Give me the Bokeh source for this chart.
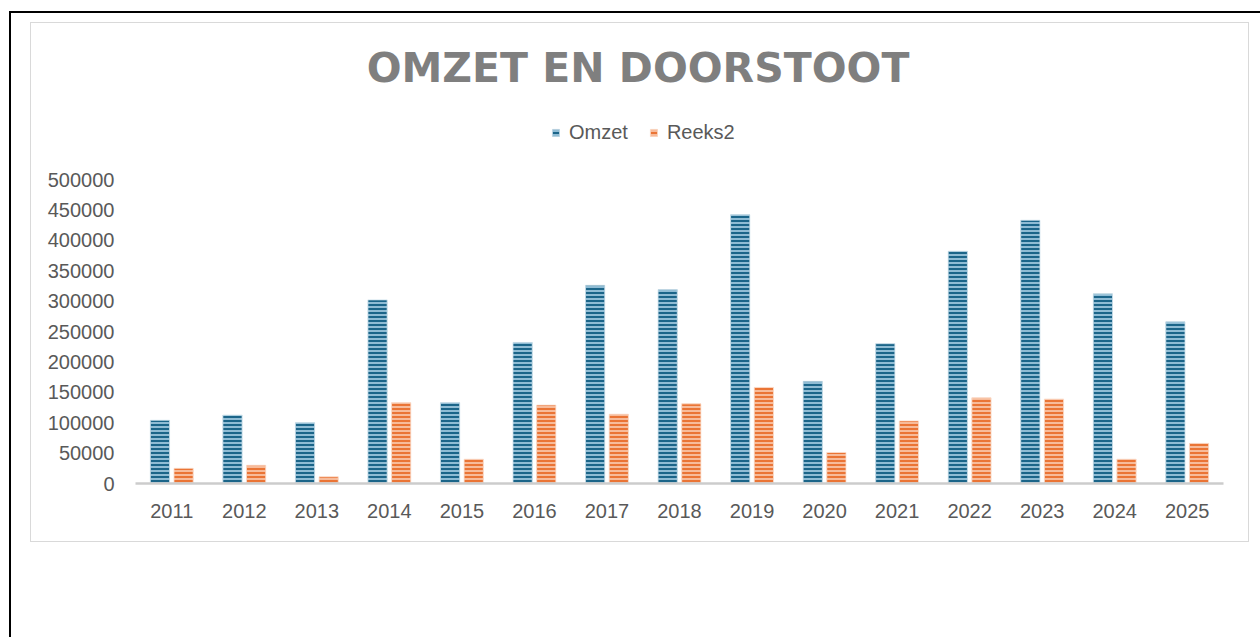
from bokeh.plotting import figure
from bokeh.models import (FactorRange, Range1d, ColumnDataSource, Legend, LegendItem,
                          FixedTicker, Label)
from bokeh.transform import dodge
from bokeh.embed import file_html
from bokeh.resources import INLINE

years = ["2011", "2012", "2013", "2014", "2015", "2016", "2017", "2018",
         "2019", "2020", "2021", "2022", "2023", "2024", "2025"]
omzet = [104000, 112500, 100000, 302000, 133000, 232000, 326000, 319000,
         442000, 168000, 230000, 382000, 433000, 312000, 266000]
reeks2 = [25000, 30000, 11000, 133000, 40000, 129000, 114000, 131000,
          158000, 51000, 103000, 141000, 139000, 40000, 66000]
y_ticks = [0, 50000, 100000, 150000, 200000, 250000, 300000, 350000,
           400000, 450000, 500000]
y_max = 500000

src = ColumnDataSource(dict(year=years, omzet=omzet, reeks2=reeks2))

W, H = 1260, 637
FL, FR, FB = 135, 1223, 483      # frame edges on page
Y_TOP_TICK = 179                 # page y of the highest tick
FT = 23                          # frame top (just inside the chart border)
y_end = y_max * (FB - FT) / (FB - Y_TOP_TICK)

bg = ", ".join([
    "linear-gradient(#000,#000) 9px 11px / 1251px 2px no-repeat",
    "linear-gradient(#000,#000) 9px 11px / 2px 626px no-repeat",
    "linear-gradient(#d9d9d9,#d9d9d9) 30px 22px / 1219px 1px no-repeat",
    "linear-gradient(#d9d9d9,#d9d9d9) 30px 541px / 1219px 1px no-repeat",
    "linear-gradient(#d9d9d9,#d9d9d9) 30px 22px / 1px 520px no-repeat",
    "linear-gradient(#d9d9d9,#d9d9d9) 1248px 22px / 1px 520px no-repeat",
    "#ffffff",
])

p = figure(width=W, height=H, x_range=FactorRange(*years, range_padding=0),
           y_range=Range1d(0, y_end), output_backend="svg", toolbar_location=None,
           min_border_left=FL, min_border_right=W - FR, min_border_top=FT,
           min_border_bottom=H - FB, styles={"background": bg})
p.outline_line_color = None
p.background_fill_alpha = 0
p.border_fill_alpha = 0
p.xgrid.grid_line_color = None
p.ygrid.grid_line_color = None

bw = 0.265
r1 = p.vbar(x=dodge("year", -0.163, range=p.x_range), top="omzet", width=bw, source=src,
            fill_color="#1b6589", line_color="#cfe2ec", line_width=1, line_alpha=0.8,
            hatch_pattern="horizontal_line", hatch_color="#8fbcd4", hatch_scale=4,
            hatch_weight=2)
r2 = p.vbar(x=dodge("year", 0.163, range=p.x_range), top="reeks2", width=bw, source=src,
            fill_color="#ea7435", line_color="#fbe0d0", line_width=1, line_alpha=0.8,
            hatch_pattern="horizontal_line", hatch_color="#f7bb9a", hatch_scale=4,
            hatch_weight=2)

axis_font = "Liberation Sans"
p.xaxis.axis_line_color = "#cccccc"
p.xaxis.axis_line_width = 2.5
p.xaxis.major_tick_line_color = None
p.xaxis.minor_tick_line_color = None
p.xaxis.major_label_text_font = axis_font
p.xaxis.major_label_text_font_size = "20px"
p.xaxis.major_label_text_color = "#595959"
p.xaxis.major_label_standoff = 14

p.yaxis.ticker = FixedTicker(ticks=y_ticks)
p.yaxis.axis_line_color = None
p.yaxis.major_tick_line_color = None
p.yaxis.minor_tick_line_color = None
p.yaxis.major_label_text_font = axis_font
p.yaxis.major_label_text_font_size = "20px"
p.yaxis.major_label_text_color = "#595959"
p.yaxis.major_label_standoff = 15
p.yaxis.formatter.use_scientific = False

legend = Legend(items=[LegendItem(label="Omzet", renderers=[r1]),
                       LegendItem(label="Reeks2", renderers=[r2])],
                orientation="horizontal", location=(551 - FL, FB - 144),
                glyph_width=9, glyph_height=9, label_standoff=9, spacing=21,
                padding=0, margin=0, border_line_color=None,
                background_fill_alpha=0, label_text_font=axis_font,
                label_text_font_size="20px", label_text_color="#595959")
p.add_layout(legend, "center")

title = Label(x=637.5 - FL, y=FB - 67, x_units="screen", y_units="screen",
              text="OMZET EN DOORSTOOT", text_font="DejaVu Sans",
              text_font_style="bold", text_font_size="41px", text_color="#7f7f7f",
              text_align="center", text_baseline="alphabetic")
p.add_layout(title)

open("out.html", "w").write(file_html(p, INLINE))
